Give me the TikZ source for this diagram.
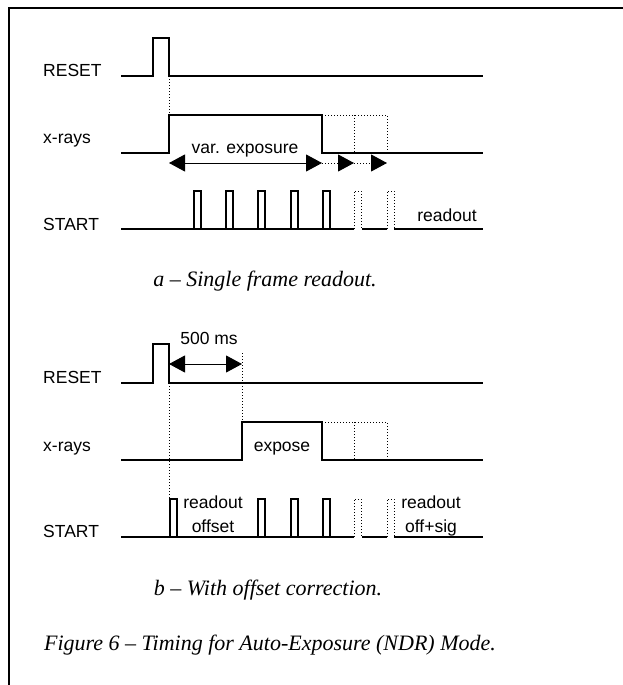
\documentclass[tikz,border=0pt]{standalone}
\usepackage{fontspec}
\setmainfont{Liberation Serif}
\setsansfont{Liberation Sans}
\usetikzlibrary{arrows.meta}
\usetikzlibrary{positioning}
\tikzset{>={Triangle[length=16pt,width=17pt]}}
\tikzset{
    wave/.style = {line width=2pt},
    ghost/.style = {dotted, line width=1pt},
    span/.style = {line width=1pt},
}
\tikzset{
    signame/.style={anchor=base west, font=\sffamily\fontsize{17.5}{21}\selectfont, inner sep=0},
    tag/.style={anchor=base, font=\sffamily\fontsize{17.5}{24}\selectfont, inner sep=0, align=center},
    caption/.style={anchor=base, font=\itshape\fontsize{22}{26}\selectfont, inner sep=0},
}
\begin{document}
\begin{tikzpicture}[x=1pt,y=-1pt]
    \useasboundingbox (0,0) rectangle (623,685);
    \draw[line width=2.7pt] (623,8) -- (9,8) -- (9,685);
    % a - single frame
    \node[signame] (reseta) at (43,77) {RESET};
    \node[signame] (xraya) at (43,143) {x-rays};
    \node[signame] (starta) at (43,230) {START};
    \draw[wave] (121,76) -- (153,76) -- (153,38) -- (169,38) -- (169,76) -- (483,76);
    \draw[ghost] (169,76) -- (169,115);
    \draw[wave] (121,153) -- (169,153) -- (169,115) -- (322,115) -- (322,153) -- (483,153);
    \draw[ghost] (322,115) -- (387,115) -- (387,153);
    \draw[ghost] (354,115) -- (354,153);
    \draw[wave] (121,229) -- (354,229) (362,229) -- (387,229) (394,229) -- (483,229);
    \foreach \x in {194,226,258,291,323}
        \draw[wave] (\x,229) -- ++(0,-38) -- ++(7,0) -- ++(0,38);
    \foreach \x in {354,387}
        \draw[ghost] (\x,229) -- ++(0,-38) -- ++(7,0) -- ++(0,38);
    \coordinate (opena) at (169,163);
    \coordinate (closea) at (322,163);
    \coordinate (morea) at (354,163);
    \coordinate (lasta) at (387,163);
    \draw[span,<->] (opena) -- (closea);
    \draw[ghost,->] (closea) -- (morea);
    \draw[ghost,->] (morea) -- (lasta);
    \node[tag] (vexp) at (245,153) {var. exposure};
    \node[tag] (reada) at (447,221) {readout};
    \node[caption] (capa) at (265,286) {a -- Single frame readout.};
    % b - offset correction
    \node[signame] (resetb) at (43,383) {RESET};
    \node[signame] (xrayb) at (43,451) {x-rays};
    \node[signame] (startb) at (43,537) {START};
    \draw[wave] (121,383) -- (153,383) -- (153,344) -- (169,344) -- (169,383) -- (483,383);
    \draw[ghost] (169,383) -- (169,499);
    \draw[ghost] (242,353) -- (242,422);
    \draw[wave] (121,460) -- (242,460) -- (242,422) -- (322,422) -- (322,460) -- (483,460);
    \draw[ghost] (322,422) -- (387,422) -- (387,460);
    \draw[ghost] (354,422) -- (354,460);
    \draw[wave] (121,537) -- (354,537) (362,537) -- (387,537) (394,537) -- (483,537);
    \foreach \x in {170,258,291,323}
        \draw[wave] (\x,537) -- ++(0,-38) -- ++(7,0) -- ++(0,38);
    \foreach \x in {354,387}
        \draw[ghost] (\x,537) -- ++(0,-38) -- ++(7,0) -- ++(0,38);
    \coordinate (openb) at (169,364);
    \coordinate (closeb) at (242,364);
    \draw[span,<->] (openb) -- (closeb);
    \node[tag] (wait) at (209,344) {500 ms};
    \node[tag] (expose) at (282,451) {expose};
    \node[tag] (readoff) at (213,532) {readout\\offset};
    \node[tag] (readsig) at (431,532) {readout\\off+sig};
    \node[caption] (capb) at (268,595) {b -- With offset correction.};
    \node[caption] (capfig) at (270,650) {Figure 6 -- Timing for Auto-Exposure (NDR) Mode.};
\end{tikzpicture}
\end{document}
